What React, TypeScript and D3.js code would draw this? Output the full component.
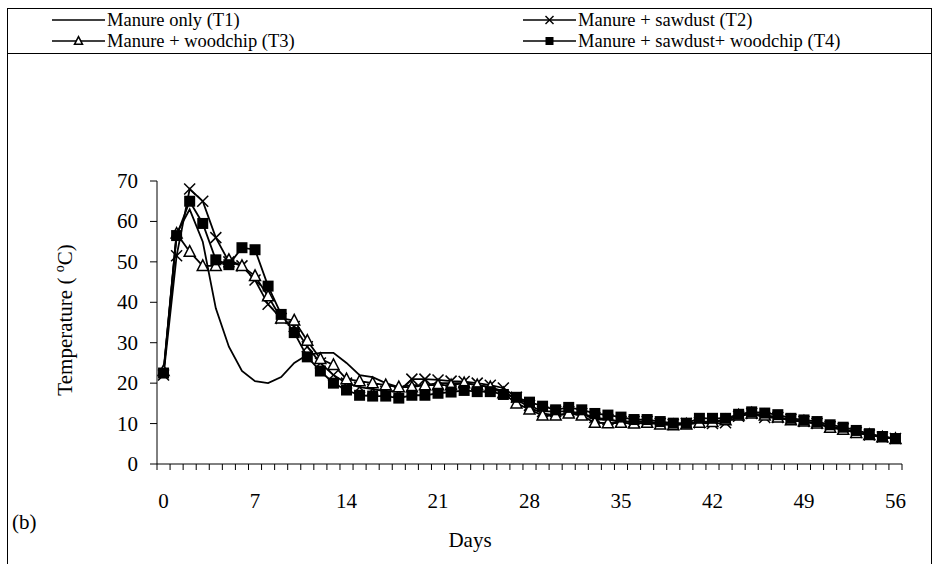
import React from "react";
import * as d3 from "d3";

const days = d3.range(0, 57);
const t1 = [22.5,57,63,55,38.5,29,23,20.5,20,21.5,25,27,27.5,27.5,25,22,21.5,20,19,19.5,19.5,20,20,20,19.5,19,18,16,14,12.5,12,12.5,12.5,11,11,10.5,10.5,10.5,10,9.8,10,10.5,10.5,11,12,12.5,12,11.5,10.8,10.5,10,9.2,8.5,7.8,7.2,6.7,6.3];
const t2 = [22,51.5,68,65,56,50,49,45.5,39.5,36,34,29,25,22,20,19,18.5,18,18,21,21,20.8,20.5,20.4,20,19.5,18.8,16.5,14.5,13,13,13,12.5,11.5,11,10.5,10.5,10.5,10,9.8,10,10.2,10,10.2,11.8,12.5,11.5,11.5,11,10.5,10,9.2,8.7,7.8,7.2,6.7,6.3];
const t3 = [23,57,52.5,49,49,50.5,49,46.5,41.5,36,35.5,30.5,26,24.5,21,20.5,20,19.5,19,19,19.5,19.5,19.5,20,19.5,19,17.5,15,13.5,12,12,12.5,12,10.2,10.1,10.2,10,10.2,9.8,9.6,9.8,10.2,10.4,10.8,12,12.5,12,11.5,10.8,10.5,10,9,8.5,7.7,7.2,6.6,6.2];
const t4 = [22.5,56.5,65,59.5,50.5,49.3,53.5,53,44,37,32.5,26.5,23,20,18.3,17,16.8,16.8,16.3,17,17,17.5,17.8,18.2,17.9,17.9,17.2,16.5,15.3,14.3,13.4,14,13.4,12.5,12.1,11.6,11,11,10.5,10.1,10.1,11.3,11.3,11.3,12.3,12.9,12.6,12.2,11.3,10.9,10.5,9.7,9.1,8.3,7.5,6.8,6.3];
const yTicks = [0, 10, 20, 30, 40, 50, 60, 70];
const xLabels = [0, 7, 14, 21, 28, 35, 42, 49, 56];
const legendLabels = ["Manure only (T1)", "Manure + sawdust (T2)", "Manure + woodchip (T3)", "Manure + sawdust+ woodchip (T4)"];

const FONT = "'Liberation Serif', 'Times New Roman', serif";
const FS = 21;
const LFS = 18.5;

function Marker({ type, x, y, s }: { type: string; x: number; y: number; s: number }) {
  if (type === "x") {
    return (
      <g stroke="#000" strokeWidth={1.5}>
        <line x1={x - s} y1={y - s} x2={x + s} y2={y + s} />
        <line x1={x - s} y1={y + s} x2={x + s} y2={y - s} />
      </g>
    );
  }
  if (type === "tri") {
    const h = s * 1.1;
    return (
      <path
        d={`M${x},${y - h} L${x + s},${y + h * 0.75} L${x - s},${y + h * 0.75} Z`}
        fill="#fff"
        stroke="#000"
        strokeWidth={1.5}
      />
    );
  }
  if (type === "sq") {
    return <rect x={x - s} y={y - s} width={2 * s} height={2 * s} fill="#000" />;
  }
  return null;
}

export default function App() {
  const W = 939, H = 564;
  const x = d3.scaleLinear().domain([-0.5, 56.5]).range([157, 902]);
  const y = d3.scaleLinear().domain([0, 70]).range([464, 181]);
  const line = d3.line<number>().x((_, i) => x(days[i])).y((v) => y(v));

  const series = [
    { data: t1, marker: "none" },
    { data: t2, marker: "x" },
    { data: t3, marker: "tri" },
    { data: t4, marker: "sq" },
  ];

  const legendPos = [
    { lx: 52, ty: 20, marker: "none" },
    { lx: 523, ty: 20, marker: "x" },
    { lx: 52, ty: 41, marker: "tri" },
    { lx: 523, ty: 41, marker: "sq" },
  ];

  return (
    <svg width={W} height={H} style={{ position: "absolute", left: 0, top: 0, background: "#fff" }} fontFamily={FONT}>
      <rect x={0} y={0} width={W} height={H} fill="#fff" />
      {/* frame */}
      <rect x={7.5} y={8.5} width={924} height={570} fill="none" stroke="#000" strokeWidth={1} />
      <line x1={7.5} x2={931.5} y1={53.5} y2={53.5} stroke="#000" strokeWidth={1} />

      {/* legend */}
      {legendPos.map((p, i) => (
        <g key={i}>
          <line x1={p.lx} x2={p.lx + 53} y1={p.ty} y2={p.ty} stroke="#000" strokeWidth={1.5} />
          <Marker type={p.marker} x={p.lx + 26.5} y={p.ty} s={4} />
          <text x={p.lx + 55} y={p.ty + 6} fontSize={LFS} fill="#000">
            {legendLabels[i]}
          </text>
        </g>
      ))}

      {/* axes */}
      <line x1={157} x2={157} y1={181} y2={464} stroke="#000" strokeWidth={1} />
      <line x1={157} x2={902} y1={464} y2={464} stroke="#000" strokeWidth={1} />
      {yTicks.map((t) => (
        <g key={t}>
          <line x1={150} x2={157} y1={y(t)} y2={y(t)} stroke="#000" strokeWidth={1} />
          <text x={138} y={y(t) + 7} textAnchor="end" fontSize={FS} fill="#000">
            {t}
          </text>
        </g>
      ))}
      {d3.range(0, 58).map((i) => (
        <line key={i} x1={x(i - 0.5)} x2={x(i - 0.5)} y1={464} y2={470} stroke="#000" strokeWidth={1} />
      ))}
      {xLabels.map((d) => (
        <text key={d} x={x(d)} y={508} textAnchor="middle" fontSize={FS} fill="#000">
          {d}
        </text>
      ))}
      <text x={470} y={547} textAnchor="middle" fontSize={FS} fill="#000">Days</text>
      <text x={12} y={529} fontSize={FS} fill="#000">(b)</text>
      <text transform={`translate(72,320) rotate(-90)`} textAnchor="middle" fontSize={FS} fill="#000">
        {"Temperature ( "}
        <tspan dy={-8} fontSize={14}>o</tspan>
        <tspan dy={8}>C)</tspan>
      </text>

      {/* series */}
      {series.map((s, si) => (
        <path key={si} d={line(s.data) || ""} fill="none" stroke="#000" strokeWidth={1.8} />
      ))}
      {series.map((s, si) =>
        s.marker === "none"
          ? null
          : s.data.map((v, i) => <Marker key={`${si}-${i}`} type={s.marker} x={x(days[i])} y={y(v)} s={5.5} />)
      )}
    </svg>
  );
}
